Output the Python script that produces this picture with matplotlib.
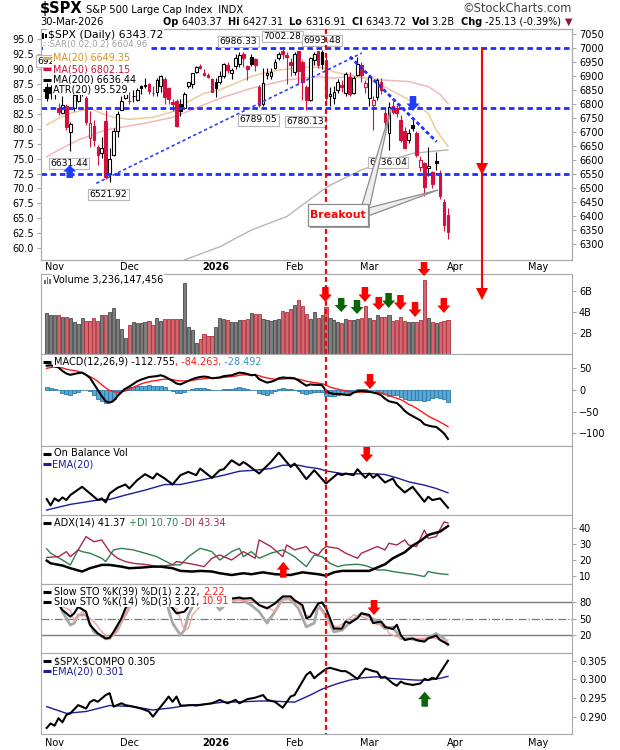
import matplotlib
matplotlib.use('Agg')
import matplotlib.pyplot as plt
import numpy as np
from matplotlib.patches import Rectangle, Polygon
from matplotlib.lines import Line2D

plt.rcParams['font.family'] = 'DejaVu Sans'

# ---- daily data, trading day 0 = 30-Oct-2025, last = 30-Mar-2026 ----
opens = [6863, 6860, 6878, 6785, 6767, 6794, 6701, 6787, 6810, 6866,
         6824, 6679, 6722, 6648, 6627, 6739, 6550, 6619, 6704, 6779,
         6823, 6812, 6831, 6816, 6866, 6866, 6873, 6840, 6843, 6866,
         6889, 6857, 6809, 6812, 6800, 6786, 6866, 6874, 6915, 6935,
         6913, 6903, 6890, 6878, 6880, 6902, 6940, 6910, 6935, 6944,
         6978, 6937, 6970, 6960, 6860, 6800, 6906, 6900, 6930, 6965,
         6990, 6975, 6950, 6915, 6990, 6950, 6862, 6815, 6958, 6990,
         6985, 6958, 6830, 6822, 6850, 6870, 6840, 6898, 6840, 6905,
         6940, 6860, 6821, 6797, 6827, 6880, 6767, 6696, 6795, 6785,
         6744, 6705, 6672, 6725, 6696, 6577, 6588, 6573, 6556, 6598,
         6553, 6451, 6403.37]
highs = [6876, 6868, 6890, 6803, 6830, 6799, 6735, 6841, 6850, 6870,
         6829, 6775, 6744, 6653, 6683, 6781, 6644, 6714, 6777, 6828,
         6850, 6844, 6852, 6857, 6867, 6895, 6876, 6864, 6895, 6903,
         6899, 6862, 6820, 6819, 6818, 6844, 6881, 6911, 6938, 6945,
         6925, 6913, 6894, 6894, 6919, 6948, 6950, 6930, 6978, 6986.33,
         6985, 6941, 6980, 6967, 6870, 6930, 6928, 6930, 6960, 6985,
         7002.28, 6985, 6966, 6985, 6990, 6958, 6870, 6970, 6988, 6990,
         6993.48, 6968, 6860, 6866, 6890, 6885, 6915, 6915, 6900, 6968,
         6950, 6885, 6905, 6830, 6895, 6895, 6785, 6809, 6810, 6798,
         6760, 6720, 6712, 6750, 6705, 6615, 6592, 6648, 6560, 6630,
         6565, 6460, 6427.31]
lows = [6811, 6818, 6818, 6762, 6764, 6708, 6631.44, 6774, 6808, 6829,
        6724, 6646, 6650, 6581, 6606, 6534, 6521.92, 6614, 6683, 6779,
        6818, 6800, 6808, 6811, 6836, 6858, 6835, 6829, 6831, 6844,
        6801, 6801, 6775, 6720, 6759, 6782, 6857, 6858, 6912, 6925,
        6901, 6895, 6845, 6825, 6873, 6895, 6912, 6890, 6925, 6934,
        6932, 6885, 6935, 6920, 6789.05, 6795, 6890, 6890, 6925, 6957,
        6960, 6871, 6900, 6905, 6870, 6815, 6780.13, 6810, 6940, 6930,
        6925, 6800, 6795, 6800, 6840, 6845, 6830, 6830, 6835, 6900,
        6880, 6840, 6795, 6708, 6815, 6835, 6720, 6636.04, 6765, 6755,
        6665, 6640, 6660, 6705, 6612, 6560, 6470, 6542, 6500, 6565,
        6462, 6345, 6316.91]
closes = [6822, 6840, 6852, 6772, 6796, 6720, 6729, 6832, 6847, 6851,
          6737, 6734, 6672, 6617, 6642, 6539, 6603, 6705, 6766, 6813,
          6849, 6813, 6829, 6850, 6857, 6870, 6847, 6841, 6887, 6901,
          6827, 6817, 6800, 6721, 6775, 6835, 6878, 6910, 6932, 6930,
          6906, 6896, 6845, 6858, 6902, 6945, 6921, 6921, 6966, 6977,
          6964, 6927, 6944, 6940, 6797, 6876, 6913, 6916, 6950, 6979,
          6978, 6969, 6939, 6980, 6920, 6880, 6815, 6964, 6980, 6942,
          6945, 6822, 6836, 6843, 6881, 6862, 6909, 6837, 6893, 6945,
          6905, 6875, 6898, 6815, 6886, 6850, 6737, 6791, 6773, 6770,
          6672, 6645, 6696, 6714, 6618, 6600, 6505, 6580, 6515, 6590,
          6470, 6368.85, 6343.72]
volume_b = [3.9, 3.75, 3.7, 3.75, 3.5, 3.5, 3.43, 3.0, 2.87, 3.43,
            3.1, 3.1, 3.43, 3.1, 3.7, 3.7, 4.0, 4.4, 3.37, 2.4,
            1.5, 2.8, 3.0, 2.97, 2.9, 3.0, 3.1, 2.73, 3.45, 3.1,
            3.37, 3.3, 3.37, 3.37, 3.37, 6.7, 2.57, 2.25, 1.08, 1.47,
            1.94, 1.7, 1.7, 2.57, 3.43, 3.37, 3.2, 3.0, 3.06, 3.2,
            3.2, 3.3, 3.9, 3.8, 3.8, 3.37, 3.2, 3.1, 3.2, 3.37,
            4.05, 4.0, 4.3, 4.7, 5.1, 4.6, 3.8, 3.37, 4.0, 3.43,
            3.75, 4.5, 3.43, 3.2, 3.06, 2.9, 3.3, 3.2, 3.2, 3.3,
            3.45, 4.55, 3.43, 3.2, 3.7, 3.5, 3.5, 3.7, 3.1, 3.2,
            3.5, 3.1, 3.0, 3.0, 3.0, 3.2, 7.0, 3.45, 3.06, 2.9,
            3.06, 3.1, 3.236]

# moving averages (day, value)
ma20_days = [0, 3, 6, 11, 14, 17, 21, 27, 32, 36, 40, 44, 48, 52, 55, 59, 63, 67,
             71, 73, 75, 80, 85, 89, 93, 97, 99, 102]
ma20_vals = [6726, 6749, 6767, 6785, 6767, 6753, 6746, 6753, 6773, 6809, 6839, 6851,
             6875, 6899, 6911, 6922, 6928, 6934, 6928, 6916, 6910, 6898, 6869, 6839,
             6809, 6767, 6708, 6649.35]
ma50_days = [0, 3, 8, 15, 20, 25, 32, 36, 44, 52, 61, 69, 73, 77, 85, 92, 97, 100, 102]
ma50_vals = [6612, 6636, 6672, 6708, 6720, 6732, 6753, 6775, 6821, 6857, 6887, 6899,
             6893, 6899, 6887, 6881, 6863, 6835, 6802.15]
ma200_days = [35, 44, 52, 61, 69, 72, 80, 85, 89, 93, 97, 102]
ma200_vals = [6243, 6290, 6350, 6398, 6481, 6510, 6565, 6589, 6607, 6624, 6630, 6636.44]

levels = [7000, 6788, 6550]
trend_up_days, trend_up_vals = [12.6, 80.1], [6517, 6983]
trend_dn_days, trend_dn_vals = [77.1, 99.1], [6970, 6666]
breakout_day = 71

macd = [56, 57, 55, 52, 44, 38, 35, 37, 39, 40,
        35, 28, 14, 0, -14, -26, -29, -25, -14, -5,
        3, 8, 14, 20, 24, 27, 30, 31, 32, 34,
        31, 26, 21, 15, 13, 17, 21, 25, 28, 30,
        31, 30, 27, 28, 29, 32, 33, 34, 37, 40,
        39, 37, 34, 35, 25, 21, 17, 19, 22, 27,
        29, 28, 28, 27, 22, 16, 10, 13, 12, 12,
        11, -2, -7, -9, -9, -10, -11, -12, -6, -3,
        -2, -3, -4, -6, -8, -12, -20, -26, -28, -30,
        -38, -48, -55, -60, -65, -70, -79, -82, -84, -85,
        -92, -100, -112.755]
signal = [50, 52, 53, 52, 51, 48, 46, 45, 43, 40,
          35, 31, 26, 20, 12, 5, -1, -4, -5, -4,
          -2, 2, 6, 10, 14, 17, 19, 21, 22, 24,
          25, 25, 24, 22, 21, 21, 21, 22, 24, 25,
          26, 27, 27, 28, 28, 29, 30, 31, 32, 34,
          35, 35, 35, 35, 33, 30, 28, 26, 25, 25,
          25, 26, 26, 26, 25, 23, 20, 19, 17, 16,
          15, 11, 7, 4, 2, 0, -2, -4, -5, -5,
          -5, -5, -5, -5, -6, -7, -10, -13, -16, -19,
          -22, -27, -33, -37, -42, -48, -54, -60, -65, -69,
          -74, -79, -84.263]

obv_days = [0, 1, 2, 3, 4, 5, 6, 9, 11, 13, 14, 15, 16, 18, 20, 21, 23, 25, 27, 28,
            30, 32, 34, 36, 38, 39, 42, 44, 45, 47, 49, 50, 51, 54, 57, 59, 62, 63,
            64, 66, 68, 71, 74, 75, 76, 78, 79, 81, 82, 83, 84, 86, 88, 89, 91, 93,
            96, 97, 98, 100, 102]
obv_vals = [4.8, 2.9, 5.0, 4.2, 5.3, 4.5, 6.0, 8.5, 6.5, 4.5, 5.0, 3.8, 6.5, 8.2,
            9.2, 8.0, 10.5, 12.3, 11.0, 12.5, 11.0, 9.2, 12.0, 13.0, 12.0, 14.0,
            11.2, 13.5, 13.8, 16.5, 15.0, 16.0, 15.2, 12.5, 16.0, 18.8, 14.5, 15.5,
            14.0, 10.8, 13.5, 9.5, 12.5, 12.0, 12.5, 12.0, 13.8, 11.2, 12.5, 11.2,
            12.2, 9.8, 11.0, 9.0, 6.8, 8.5, 4.0, 5.5, 4.5, 5.0, 2.2]
obv_ema_days = [0, 6, 13, 16, 20, 25, 30, 34, 38, 42, 45, 49, 53, 57, 60, 64, 66, 69,
                71, 75, 79, 82, 86, 89, 92, 96, 99, 102]
obv_ema_vals = [1.5, 3.2, 4.5, 4.7, 6.0, 7.5, 9.2, 9.2, 10.2, 11.2, 12.0, 13.2, 13.5,
                14.0, 15.0, 15.0, 14.5, 14.0, 13.3, 12.5, 12.4, 12.5, 12.2, 11.2, 10.0,
                9.0, 8.0, 6.7]

adx_days = [0, 1, 4, 6, 9, 11, 14, 16, 19, 21, 24, 27, 29, 32, 34, 37, 39, 42, 44, 47,
            50, 52, 55, 58, 62, 65, 69, 71, 73, 75, 79, 82, 84, 86, 88, 91, 93, 95, 97,
            100, 102]
adx_vals = [19.5, 17.8, 16.4, 14.7, 12.6, 14.7, 16.8, 16.8, 15.7, 14.7, 15.1, 15.7,
            15.7, 14.7, 13.0, 12.6, 13.0, 12.6, 11.5, 10.4, 11.5, 10.9, 12.1, 10.9,
            10.4, 12.1, 10.9, 10.0, 12.1, 13.0, 13.0, 13.0, 15.1, 17.2, 21.0, 24.8,
            29.0, 32.0, 35.8, 37.9, 41.37]
pdi_days = [0, 1, 4, 6, 8, 9, 11, 14, 15, 17, 19, 22, 25, 28, 32, 34, 36, 39, 42, 44,
            47, 49, 50, 52, 54, 57, 60, 63, 64, 66, 68, 70, 72, 74, 76, 79, 81, 84, 86,
            88, 91, 93, 96, 97, 99, 102]
pdi_vals = [27.0, 24.2, 19.9, 16.8, 26.3, 25.2, 24.2, 21.0, 18.9, 26.3, 27.3, 26.3,
            24.2, 22.0, 16.8, 16.8, 22.0, 27.3, 25.2, 19.9, 25.2, 27.3, 22.0, 25.2,
            21.0, 24.2, 26.3, 22.0, 19.9, 15.7, 23.1, 22.0, 17.8, 15.7, 16.8, 17.2,
            16.4, 13.6, 13.6, 12.6, 11.5, 10.9, 9.4, 12.6, 11.5, 10.70]
mdi_days = [0, 3, 5, 6, 8, 10, 12, 14, 16, 18, 20, 22, 26, 28, 32, 33, 36, 38, 40, 42,
            44, 47, 50, 53, 54, 57, 60, 61, 63, 66, 67, 69, 70, 71, 74, 76, 79, 80, 82,
            84, 86, 87, 89, 91, 92, 94, 96, 97, 99, 101, 102]
mdi_vals = [21.5, 22.0, 25.2, 22.0, 26.3, 34.7, 31.5, 32.6, 25.2, 21.0, 18.9, 17.8,
            16.8, 15.7, 16.8, 18.9, 17.8, 16.8, 15.7, 21.0, 23.1, 19.9, 25.2, 21.0,
            32.6, 28.4, 22.0, 29.4, 26.3, 28.4, 25.2, 23.1, 26.3, 28.4, 27.3, 24.2,
            21.0, 24.2, 26.3, 28.4, 26.3, 30.5, 29.4, 32.6, 29.4, 28.4, 38.9, 33.6,
            34.7, 44.0, 43.34]

k14_days = [0, 2, 4, 6, 7, 8, 10, 11, 13, 15, 16, 17, 19, 20, 22, 25, 28, 30, 32, 33,
            35, 36, 38, 40, 42, 44, 45, 47, 49, 50, 52, 54, 56, 58, 60, 62, 63, 65, 66,
            67, 69, 70, 71, 72, 73, 75, 76, 77, 79, 80, 82, 83, 85, 86, 88, 89, 90, 91,
            93, 94, 96, 97, 99, 100, 102]
k14_vals = [92, 88, 66, 54, 60, 72, 63, 38.5, 23, 14, 15, 26, 51, 69, 90, 95, 97, 90,
            69, 60, 63, 72, 92, 95, 85, 75, 84, 87, 89, 87, 88, 75, 69, 78, 91, 91, 84,
            75, 51, 54, 78, 80, 69, 51, 32, 32, 45, 42, 51, 60, 57, 42, 45, 35, 31, 39,
            20, 11, 14, 11, 8, 14, 19, 11, 3.01]
k39_days = [0, 3, 4, 6, 7, 8, 10, 12, 15, 16, 18, 20, 22, 30, 32, 34, 35, 36, 38, 43,
            44, 46, 49, 52, 54, 56, 58, 60, 62, 64, 66, 68, 69, 71, 73, 75, 77, 80, 82,
            84, 86, 88, 90, 92, 95, 97, 99, 101, 102]
k39_vals = [95, 85, 63, 38.5, 42, 57, 57, 26, 13, 14, 32, 57, 85, 90, 42, 20, 29, 57,
            85, 75, 66, 80, 87, 75, 63, 42, 63, 87, 86, 69, 35, 42, 75, 57, 26, 29, 42,
            60, 54, 45, 32, 35, 14, 14, 9, 15, 23, 14, 2.22]
d3_days = [4, 6, 7, 9, 12, 14, 16, 18, 20, 22, 33, 35, 36, 37, 40, 45, 48, 52, 54, 56,
           58, 60, 62, 64, 66, 67, 69, 70, 72, 74, 76, 78, 80, 82, 84, 86, 87, 89, 92,
           95, 98, 100, 102]
d3_vals = [72, 66, 45, 63, 45, 26, 14, 26, 57, 85, 69, 29, 32, 57, 80, 78, 84, 84, 75,
           72, 63, 84, 87, 78, 57, 54, 72, 63, 39, 35, 45, 57, 54, 48, 39, 40, 23, 17,
           14, 14, 15, 12, 10.91]

ratio_days = [0, 1, 2, 3, 4, 5, 6, 7, 8, 10, 11, 12, 13, 15, 16, 17, 19, 20, 22, 24,
              26, 27, 28, 30, 31, 32, 33, 34, 35, 37, 38, 40, 42, 44, 45, 46, 48, 49,
              51, 53, 55, 56, 58, 60, 62, 63, 64, 66, 67, 68, 69, 70, 71, 72, 74, 75,
              76, 77, 79, 81, 83, 84, 85, 86, 88, 89, 90, 91, 93, 95, 96, 97, 98, 99,
              101, 102]
ratio_vals = [0.2870, 0.2882, 0.2876, 0.2896, 0.2885, 0.2905, 0.2909, 0.2920, 0.2931,
              0.2922, 0.2939, 0.2945, 0.2940, 0.2958, 0.2963, 0.2927, 0.2936, 0.2931,
              0.2927, 0.2922, 0.2914, 0.2900, 0.2914, 0.2940, 0.2954, 0.2940, 0.2954,
              0.2930, 0.2930, 0.2931, 0.2930, 0.2933, 0.2936, 0.2945, 0.2940, 0.2936,
              0.2945, 0.2936, 0.2947, 0.2951, 0.2958, 0.2945, 0.2940, 0.2924, 0.2954,
              0.2958, 0.2976, 0.3012, 0.3020, 0.3003, 0.3012, 0.3020, 0.3028, 0.3031,
              0.3025, 0.3022, 0.3022, 0.3016, 0.3001, 0.3029, 0.3022, 0.3020, 0.3004,
              0.3007, 0.2989, 0.2983, 0.2994, 0.2989, 0.2985, 0.2989, 0.3001, 0.2998,
              0.3004, 0.3001, 0.3034, 0.3050]
ratio_ema_days = [0, 5, 10, 16, 22, 27, 32, 36, 40, 45, 50, 54, 57, 63, 67, 70, 74, 77,
                  80, 84, 87, 91, 94, 97, 100, 102]
ratio_ema_vals = [0.2927, 0.2909, 0.2914, 0.2930, 0.2927, 0.2918, 0.2924, 0.2931,
                  0.2933, 0.2939, 0.2940, 0.2942, 0.2942, 0.2939, 0.2958, 0.2974,
                  0.2989, 0.2998, 0.3004, 0.3007, 0.3003, 0.3000, 0.2998, 0.2998,
                  0.3003, 0.3008]

month_days = [2, 21, 43, 63, 82, 104, 125]
month_names = ['Nov', 'Dec', '2026', 'Feb', 'Mar', 'Apr', 'May']

# ---- layout (pixels of the 620x750 picture) ----
W, H = 620, 750
XL, XR = 40.6, 572.0
DAY0, STEP = 46.7, 3.934
XLIM = ((XL - DAY0) / STEP, (XR - DAY0) / STEP)
GREY = '#a9a9a9'
RED = '#d4113c'
NAVY = '#1c1c9c'

fig = plt.figure(figsize=(6.2, 7.5), dpi=100, facecolor='white')
R = fig.canvas.get_renderer()


def fx(x):
    return x / W


def fy(y):
    return 1 - y / H


def panel(top, bot, ylim, yticks=None, labels=None):
    a = fig.add_axes([fx(XL), fy(bot), (XR - XL) / W, (bot - top) / H])
    a.set_xlim(*XLIM)
    a.set_ylim(*ylim)
    for s in a.spines.values():
        s.set_color(GREY)
    a.yaxis.tick_right()
    a.tick_params(axis='y', labelsize=7, length=3, color=GREY, pad=2)
    a.set_xticks(month_days)
    a.tick_params(axis='x', length=0, labelbottom=False)
    if yticks is None:
        a.set_yticks([])
    else:
        a.set_yticks(yticks)
        if labels is not None:
            a.set_yticklabels(labels)
    return a


def month_labels(a):
    a.set_xticklabels(month_names)
    a.tick_params(axis='x', labelbottom=True, labelsize=7, pad=1.5)
    for lb in a.get_xticklabels():
        if lb.get_text() == '2026':
            lb.set_fontweight('bold')


def width_of(s, size, weight='normal'):
    t = fig.text(0, 0, s, fontsize=size, fontweight=weight)
    w = t.get_window_extent(renderer=R).width
    t.remove()
    return w


def seg(x, y, parts, size=7, bg=True, pad=0.1):
    for p in parts:
        s, c = p[0], p[1]
        w = p[2] if len(p) > 2 else 'normal'
        kw = dict(bbox=dict(boxstyle='square,pad=%s' % pad, fc='white', ec='none')) if bg else {}
        t = fig.text(fx(x), fy(y), s, color=c, fontsize=size, fontweight=w,
                     ha='left', va='center', zorder=6, **kw)
        x += t.get_window_extent(renderer=R).width
    return x


def dash(x, y, color):
    fig.add_artist(Line2D([fx(x), fx(x + 8)], [fy(y), fy(y)], color=color, lw=2.2,
                          solid_capstyle='butt', transform=fig.transFigure, zorder=7))


def block_arrow(cx, y0, y1, color, w=13):
    s = 1 if y1 > y0 else -1
    hl = abs(y1 - y0) * 0.5
    sw = w * 0.5
    pts = [(cx - sw / 2, y0), (cx + sw / 2, y0), (cx + sw / 2, y1 - s * hl),
           (cx + w / 2, y1 - s * hl), (cx, y1), (cx - w / 2, y1 - s * hl),
           (cx - sw / 2, y1 - s * hl)]
    fig.add_artist(Polygon([(fx(a), fy(b)) for a, b in pts], closed=True,
                           transform=fig.transFigure, fc=color, ec='none', zorder=10))


n = len(closes)
days = np.arange(n)
up = [i == 0 or closes[i] >= closes[i - 1] for i in range(n)]

# ---- price panel ----
ax = panel(29, 260, (6242.8, 7069), list(range(6300, 7051, 50)))
ax2 = ax.twinx()
ax2.set_ylim(58.04, 96.67)
ax2.set_yticks(np.arange(60, 95.1, 2.5))
ax2.set_yticklabels(['%.1f' % v for v in np.arange(60, 95.1, 2.5)])
ax.yaxis.tick_right()
ax2.yaxis.tick_left()
ax2.tick_params(axis='y', labelsize=7, length=3, color=GREY, pad=2)
for s in ax2.spines.values():
    s.set_color(GREY)
ax.tick_params(axis='y', labelsize=7, length=3, color=GREY, pad=2)
month_labels(ax)

ax.plot(ma200_days, ma200_vals, color='#b6b6b6', lw=1, zorder=2)
ax.plot(ma50_days, ma50_vals, color='#f3b7bb', lw=1.1, zorder=2)
ax.plot(ma20_days, ma20_vals, color='#eccb9c', lw=1.1, zorder=2)

for i in range(n):
    o, h, l, c = opens[i], highs[i], lows[i], closes[i]
    col = 'black' if up[i] else RED
    ax.vlines(i, l, h, color=col, lw=0.8, zorder=3)
    face = 'white' if c > o else col
    ax.add_patch(Rectangle((i - 0.34, min(o, c)), 0.68, max(abs(c - o), 1.0),
                           fc=face, ec=col, lw=0.8, zorder=4))

for lv in levels:
    ax.axhline(lv, color='#1f2dff', lw=2, linestyle=(0, (2, 1.3)), zorder=5)
ax.plot(trend_up_days, trend_up_vals, color='#3040ff', lw=1.2, linestyle=(0, (2, 1.6)), zorder=5)
ax.plot(trend_dn_days, trend_dn_vals, color='#2030ff', lw=2, linestyle=(0, (1.4, 1)), zorder=5)

# ---- volume ----
axv = panel(274, 354, (0, 7.6), [2, 4, 6], ['2B', '4B', '6B'])
axv.bar(days, volume_b, width=0.8,
        color=['#7d7d7d' if u else '#d06a70' for u in up],
        edgecolor=['#4a4a4a' if u else '#b3303c' for u in up], lw=0.6, zorder=2)

# ---- MACD ----
axm = panel(354, 446, (-129, 83), [50, 0, -50, -100])
hist = np.array(macd) - np.array(signal)
axm.bar(days, hist, width=1.0, color='#5ba6d2', edgecolor='#2c7aaa', lw=0.6, zorder=2)
axm.plot(days, signal, color='#ff1a1a', lw=1, zorder=3)
axm.plot(days, macd, color='black', lw=1.5, zorder=4)

# ---- On Balance Volume ----
axo = panel(446, 515, (0, 20.8))
axo.plot(obv_ema_days, obv_ema_vals, color=NAVY, lw=1, zorder=2)
axo.plot(obv_days, obv_vals, color='black', lw=1.5, zorder=3)

# ---- ADX ----
axa = panel(515, 584, (4.7, 48.4), [10, 20, 30, 40])
axa.plot(pdi_days, pdi_vals, color='#2e8050', lw=1, zorder=2)
axa.plot(mdi_days, mdi_vals, color='#a8284f', lw=1, zorder=2)
axa.plot(adx_days, adx_vals, color='black', lw=1.8, zorder=3)

# ---- Slow stochastics ----
axs = panel(584, 653, (-12.8, 113.8), [20, 50, 80])
axs.axhline(80, color='#7a7a7a', lw=1, zorder=1)
axs.axhline(20, color='#7a7a7a', lw=1, zorder=1)
axs.axhline(50, color='#7a7a7a', lw=0.9, linestyle='-.', zorder=1)
axs.plot(k39_days, k39_vals, color='#a8a8a8', lw=2, zorder=2)
axs.plot(d3_days, d3_vals, color='#f4a3a3', lw=1, zorder=3)
axs.plot(k14_days, k14_vals, color='black', lw=1.5, zorder=4)

# ---- SPX:COMPQ ratio ----
axr = panel(653, 734, (0.28537, 0.30706), [0.290, 0.295, 0.300, 0.305],
            ['0.290', '0.295', '0.300', '0.305'])
axr.plot(ratio_ema_days, ratio_ema_vals, color=NAVY, lw=1, zorder=2)
axr.plot(ratio_days, ratio_vals, color='black', lw=1.5, zorder=3)
month_labels(axr)
axr.tick_params(axis='x', pad=3)

# ---- header ----
xe = seg(40, 9, [(r'\$SPX', 'black', 'bold')], size=10.5, bg=False)
seg(xe + 3, 10, [('S&P 500 Large Cap Index', 'black'), ('  INDX', 'black')], size=7.2, bg=False)
fig.text(fx(572), fy(9), '\u00a9StockCharts.com', ha='right', va='center', fontsize=8.3, color='#404040')
seg(40, 22, [('30-Mar-2026', 'black')], size=7.2, bg=False)
quote = [('Op ', 'black', 'bold'), ('6403.37  ', 'black'), ('Hi ', 'black', 'bold'),
         ('6427.31  ', 'black'), ('Lo ', 'black', 'bold'), ('6316.91  ', 'black'),
         ('Cl ', 'black', 'bold'), ('6343.72  ', 'black'), ('Vol ', 'black', 'bold'),
         ('3.2B  ', 'black'), ('Chg ', 'black', 'bold'), ('-25.13 (-0.39%) ', 'black'),
         ('\u25bc', '#8b1a3a')]
total = sum(width_of(p[0], 7.0, p[2] if len(p) > 2 else 'normal') for p in quote)
seg(572 - total, 22, quote, size=7.0, bg=False)

# ---- price panel legend and labels ----
for x, y, s in [(46, 61, '692'), (238.5, 41.5, '6986.33'), (282.5, 36.5, '7002.28'),
                (322, 40.5, '6993.48'), (258.5, 120, '6789.05'), (305.5, 121.5, '6780.13'),
                (69, 163.5, '6631.44'), (108.5, 194.5, '6521.92'), (388, 162.5, '6636.04')]:
    fig.text(fx(x), fy(y), s, ha='center', va='center', fontsize=6.6, zorder=4,
             bbox=dict(boxstyle='square,pad=0.15', fc='white', ec='#b8b8b8', lw=0.8))

fig.add_artist(Rectangle((fx(42), fy(39)), 1.6 / W, 6 / H, fc='black', transform=fig.transFigure, zorder=7))
fig.add_artist(Rectangle((fx(45), fy(38)), 1.6 / W, 4 / H, fc='black', transform=fig.transFigure, zorder=7))
seg(48, 35.5, [(r'\$SPX (Daily) 6343.72', 'black')], size=7.8)
seg(44, 45, [('\u2237SAR(0.02,0.2) 6604.96', '#a0a0a0')], size=6.2)
for y, col, tcol, s in [(57.5, '#e0a648', '#d39421', 'MA(20) 6649.35'),
                        (69, '#d4113c', '#d4113c', 'MA(50) 6802.15'),
                        (80, 'black', 'black', 'MA(200) 6636.44'),
                        (89.5, 'black', 'black', 'ATR(20) 95.529')]:
    dash(43, y, col)
    seg(53, y, [(s, tcol)], size=6.9)

# ---- panel legends ----
for k, hgt in enumerate([4, 7, 5]):
    fig.add_artist(Rectangle((fx(44 + 2.5 * k), fy(284)), 1.8 / W, hgt / H, fc='#707070',
                             transform=fig.transFigure, zorder=7))
seg(53, 280, [('Volume 3,236,147,456', 'black')])
dash(43, 361.5, 'black')
seg(54, 361.5, [('MACD(12,26,9) -112.755', 'black'), (', -84.263', '#ff1a1a'),
                (', -28.492', '#3a8fc0')])
dash(43, 453.5, 'black')
seg(54, 453.5, [('On Balance Vol', 'black')])
dash(43, 464.5, NAVY)
seg(52, 464.5, [('EMA(20)', NAVY)])
dash(43, 522.5, 'black')
seg(54, 522.5, [('ADX(14) 41.37 ', 'black'), ('+DI 10.70 ', '#2e8050'), ('-DI 43.34', '#a8284f')])

# stochastics legend sits on one white block that hides the lines behind it
sto1 = [('Slow STO %K(39) %D(1) 2.22, ', 'black'), ('2.22', '#ff1a1a')]
sto2 = [('Slow STO %K(14) %D(3) 3.01, ', 'black'), ('10.91', '#ff1a1a')]
sto_w = max(sum(width_of(p[0], 7) for p in sto1), sum(width_of(p[0], 7) for p in sto2))
fig.add_artist(Rectangle((fx(42), fy(607)), (sto_w + 14) / W, 21.5 / H, fc='white', ec='none',
                         transform=fig.transFigure, zorder=5))
seg(54, 592, sto1, bg=False)
seg(54, 601.5, sto2, bg=False)
dash(43, 592, 'black')
dash(43, 601.5, 'black')

dash(43, 661, 'black')
seg(54, 661, [(r'\$SPX:\$COMPQ 0.305', 'black')])
dash(43, 671, NAVY)
seg(52, 671, [('EMA(20) 0.301', NAVY)])

# ---- breakout callout ----
for pts in ([(362, 205), (370, 205), (391, 109)], [(368, 208), (368, 216), (438, 190)]):
    fig.add_artist(Polygon([(fx(a), fy(b)) for a, b in pts], closed=True, transform=fig.transFigure,
                           fc='#eeeeee', ec='#8c8c8c', lw=0.9, zorder=9))
fig.add_artist(Rectangle((fx(310), fy(228)), 60 / W, 22 / H, fc='#9a9a9a', ec='none',
                         transform=fig.transFigure, zorder=9))
fig.add_artist(Rectangle((fx(308), fy(226)), 60 / W, 22 / H, fc='white', ec='#8c8c8c', lw=0.9,
                         transform=fig.transFigure, zorder=9))
fig.text(fx(338), fy(215), 'Breakout', ha='center', va='center', fontsize=7.8,
         fontweight='bold', color='#ff0000', zorder=11)

# ---- vertical markers ----
bx = DAY0 + STEP * breakout_day
fig.add_artist(Line2D([fx(bx), fx(bx)], [fy(29), fy(734)], color='#ff0000', lw=1.6,
                      linestyle=(0, (2.2, 1.4)), transform=fig.transFigure, zorder=8))
fig.add_artist(Line2D([fx(482), fx(482)], [fy(48), fy(292)], color='#ff0000', lw=1.5,
                      transform=fig.transFigure, zorder=8))
for ty in (175, 300):
    fig.add_artist(Polygon([(fx(476), fy(ty - 12)), (fx(488), fy(ty - 12)), (fx(482), fy(ty))],
                           closed=True, transform=fig.transFigure, fc='#ff0000', ec='none', zorder=8))

# ---- block arrows ----
block_arrow(413, 96, 111, '#1f3fff')
block_arrow(69.7, 178, 165, '#1f3fff')
for cx, y0, y1 in [(325.4, 287, 302), (364.9, 287, 302), (378.7, 297, 310), (400.4, 295, 310),
                   (415, 302, 317), (443.8, 298, 313), (424, 262, 276), (370, 374, 389),
                   (366.7, 447, 462), (374, 600, 615)]:
    block_arrow(cx, y0, y1, '#ff0000')
for cx, y0, y1 in [(341.2, 298, 312), (357, 300, 314), (388.6, 293, 308)]:
    block_arrow(cx, y0, y1, '#0a640a')
block_arrow(283.3, 577.7, 561.7, '#ff0000')
block_arrow(424.7, 706.7, 691.7, '#0a640a')

fig.savefig('out.png', dpi=100, facecolor='white')
